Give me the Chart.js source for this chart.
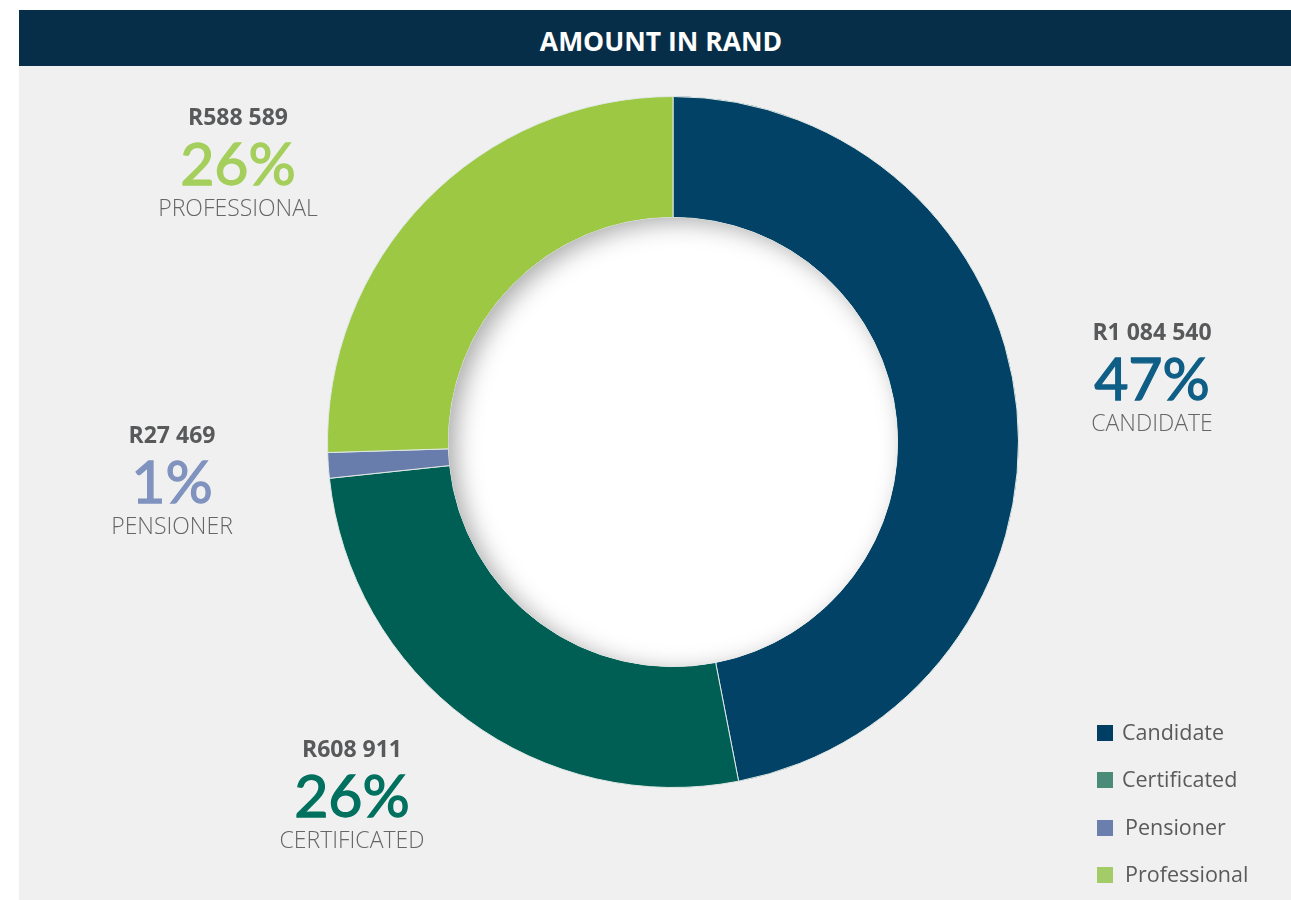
<!DOCTYPE html>
<html>
<head>
<meta charset="utf-8">
<title>Amount in Rand</title>
<script src="https://cdn.jsdelivr.net/npm/chart.js@4/dist/chart.umd.min.js"></script>
<style>
  html, body { margin: 0; padding: 0; background: #ffffff; }
  body { width: 1291px; height: 900px; position: relative; overflow: hidden; font-family: "Open Sans", sans-serif; }
  #header {
    position: absolute; left: 19px; top: 10px; width: 1272px; height: 56px;
    background: #072e48;
  }
  #header span {
    position: absolute; left: 0; width: 100%; top: 18px; padding-left: 12px; box-sizing: border-box;
    text-align: center; color: #ffffff; font: 700 26.5px "Open Sans", sans-serif; line-height: 1;
  }
  #panel { position: absolute; left: 19px; top: 66px; width: 1272px; height: 834px; background: #f0f0f0; }
  #chart { position: absolute; left: 0; top: 0; }
  .lbl { position: absolute; width: 300px; height: 1px; }
  .lbl div { position: absolute; left: 0; width: 100%; text-align: center; line-height: 1; white-space: nowrap; }
  .lbl .amt { font: 700 23px "Open Sans", sans-serif; color: #58595b; }
  .lbl .pct { font: 400 59px Lato, sans-serif; -webkit-text-stroke: 1.3px currentColor; }
  .lbl .cat { font: 300 23px "Open Sans", sans-serif; color: #666666; }
  #legend { position: absolute; left: 1078px; top: 650px; }
  .li { position: relative; height: 47.3px; }
  .li .sw { position: absolute; left: 0; top: 9px; width: 16px; height: 16px; }
  .li .tx { position: absolute; top: 0; font: 400 21.5px "Open Sans", sans-serif; color: #5a5a5a; line-height: 32px; }
</style>
</head>
<body>
<div id="header"><span></span></div>
<div id="panel">
  <canvas id="chart" width="1272" height="834"></canvas>
</div>

<script>
// Amount per member category, in rand
const categories = ['Candidate', 'Certificated', 'Pensioner', 'Professional'];
const amounts = [1084540, 608911, 27469, 588589];
const percentLabels = ['47%', '26%', '1%', '26%'];
const sliceColors = ['#014266', '#005f54', '#687dac', '#9dc843'];
const legendColors = ['#003f63', '#4a8c77', '#6a7fab', '#a3cc68'];
const percentColors = ['#0f5e86', '#00705f', '#8093bf', '#a5cf5c'];
const chartTitle = 'AMOUNT IN RAND';

// Callout anchors on the page: horizontal centre and top of the amount line
const labelAnchor = [
  { cx: 1152, top: 319 },
  { cx: 352, top: 736 },
  { cx: 172, top: 422 },
  { cx: 238, top: 104 }
];

function formatRand(v) {
  return 'R' + String(v).replace(/\B(?=(\d{3})+(?!\d))/g, ' ');
}

document.querySelector('#header span').textContent = chartTitle;

// Callout labels (panel sits at 19, 66 on the page)
const panel = document.getElementById('panel');
categories.forEach((c, i) => {
  const a = labelAnchor[i];
  const d = document.createElement('div');
  d.className = 'lbl';
  d.style.left = (a.cx - 19 - 150) + 'px';
  d.style.top = (a.top - 66) + 'px';
  const amt = document.createElement('div');
  amt.className = 'amt';
  amt.style.top = (-0.174 * 23) + 'px';
  amt.textContent = formatRand(amounts[i]);
  const pct = document.createElement('div');
  pct.className = 'pct';
  pct.style.top = (33 - 0.17 * 59) + 'px';
  pct.style.color = percentColors[i];
  pct.textContent = percentLabels[i];
  const cat = document.createElement('div');
  cat.className = 'cat';
  cat.style.top = (91 - 0.174 * 23) + 'px';
  cat.textContent = c.toUpperCase();
  d.append(amt, pct, cat);
  panel.appendChild(d);
});

// Legend
const legend = document.createElement('div');
legend.id = 'legend';
categories.forEach((c, i) => {
  const row = document.createElement('div');
  row.className = 'li';
  row.innerHTML = '<div class="sw" style="background:' + legendColors[i] + '"></div>' +
    '<div class="tx" style="left:' + (i >= 2 ? 28 : 25) + 'px">' + c + '</div>';
  legend.appendChild(row);
});
panel.appendChild(legend);

// White hole with a soft inner shadow along its upper-left edge
const holeShadow = {
  id: 'holeShadow',
  afterDatasetsDraw(chart) {
    const arc = chart.getDatasetMeta(0).data[0];
    if (!arc) return;
    const { x, y, innerRadius } = arc.getProps(['x', 'y', 'innerRadius'], true);
    const ctx = chart.ctx;
    ctx.save();
    ctx.beginPath();
    ctx.arc(x, y, innerRadius, 0, Math.PI * 2);
    ctx.fillStyle = '#ffffff';
    ctx.fill();
    ctx.clip();
    ctx.beginPath();
    ctx.arc(x, y, innerRadius + 200, 0, Math.PI * 2);
    ctx.arc(x, y, innerRadius + 1, 0, Math.PI * 2, true);
    ctx.fillStyle = '#000000';
    ctx.shadowColor = 'rgba(0,0,0,0.34)';
    ctx.shadowBlur = 24;
    ctx.shadowOffsetX = 8;
    ctx.shadowOffsetY = 5;
    ctx.fill();
    ctx.restore();
  }
};

new Chart(document.getElementById('chart'), {
  type: 'doughnut',
  data: {
    labels: categories,
    datasets: [{
      data: amounts,
      backgroundColor: sliceColors,
      borderColor: '#dfe8e4',
      borderWidth: 1,
      hoverOffset: 0
    }]
  },
  options: {
    responsive: false,
    animation: false,
    cutout: '65%',
    layout: { padding: { left: 308, right: 272, top: 30, bottom: 112 } },
    plugins: {
      legend: { display: false },
      tooltip: { enabled: false },
      title: { display: false }
    }
  },
  plugins: [holeShadow]
});
</script>
</body>
</html>
